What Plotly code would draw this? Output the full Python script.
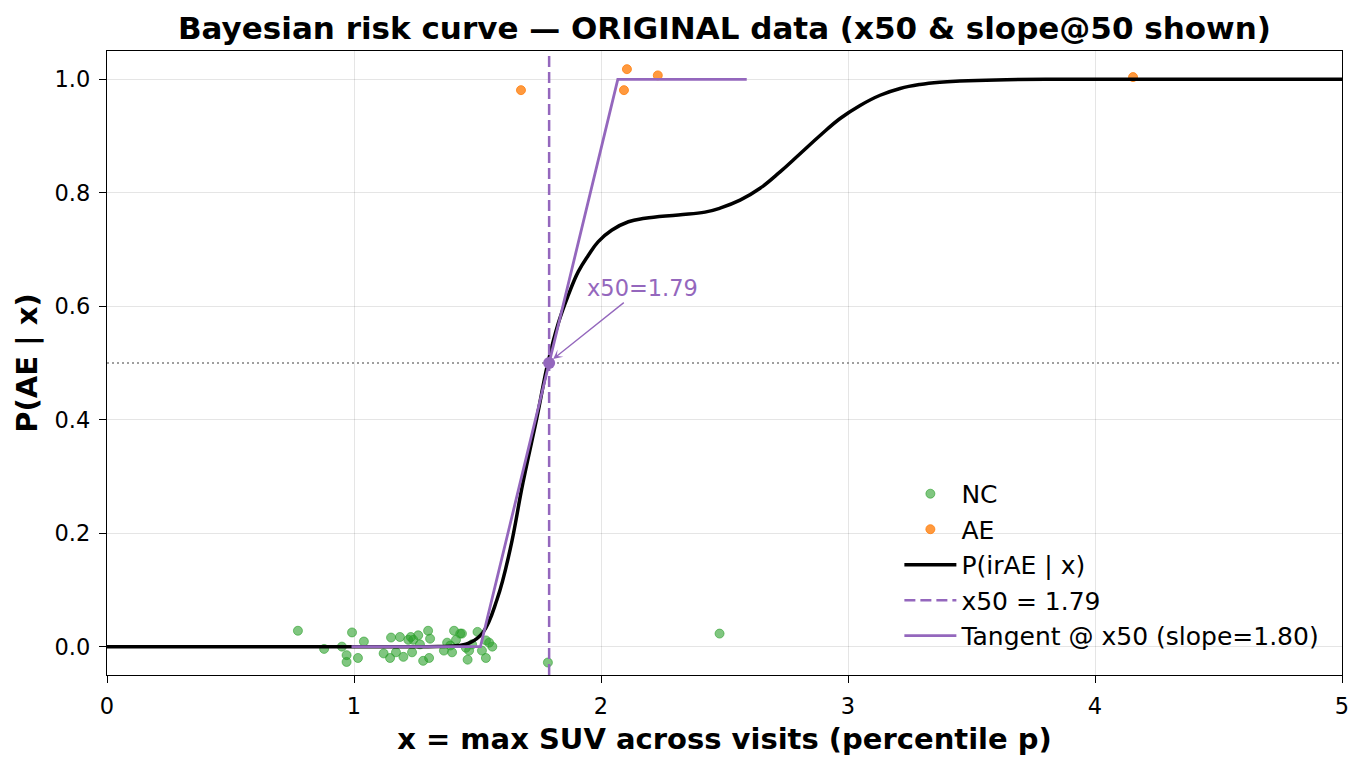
import plotly.graph_objects as go

# values
nc_x = [0.773, 0.879, 0.951, 0.97, 0.97, 0.992, 1.016, 1.04, 1.12, 1.15, 1.146, 1.17,
        1.186, 1.20, 1.22, 1.23, 1.235, 1.24, 1.26, 1.267, 1.28, 1.30, 1.304, 1.308,
        1.364, 1.377, 1.39, 1.397, 1.405, 1.413, 1.43, 1.437, 1.453, 1.46, 1.466,
        1.478, 1.50, 1.518, 1.534, 1.534, 1.547, 1.56, 1.785, 2.48]
nc_y = [0.028, -0.004, 0.0, -0.015, -0.027, 0.025, -0.02, 0.009, -0.012, 0.016, -0.02, -0.01,
        0.017, -0.018, 0.012, 0.017, -0.01, 0.012, 0.02, 0.004, -0.025, 0.028, -0.02, 0.014,
        -0.007, 0.007, 0.002, -0.01, 0.028, 0.012, 0.023, 0.023, -0.002, -0.023, -0.007,
        0.004, 0.026, -0.007, -0.02, 0.011, 0.007, 0.0, -0.028, 0.023]

ae_x = [1.676, 2.093, 2.105, 2.23, 4.154]
ae_y = [0.981, 0.981, 1.018, 1.007, 1.004]

curve_x = [0.0, 0.5, 1.0, 1.3, 1.42, 1.47, 1.522, 1.579, 1.632, 1.684, 1.741, 1.785,
           1.827, 1.868, 1.908, 1.949, 1.989, 2.043, 2.111, 2.178, 2.313, 2.421, 2.482,
           2.563, 2.644, 2.725, 2.806, 2.887, 2.968, 3.049, 3.130, 3.211, 3.291, 3.372,
           3.453, 3.6, 3.8, 4.2, 4.6, 5.0]
curve_y = [0.0, 0.0, 0.0, 0.0, 0.002, 0.007, 0.025, 0.083, 0.171, 0.289, 0.405, 0.5,
           0.570, 0.620, 0.661, 0.690, 0.714, 0.734, 0.749, 0.755, 0.761, 0.766, 0.773,
           0.787, 0.808, 0.837, 0.869, 0.901, 0.931, 0.954, 0.972, 0.984, 0.991, 0.995,
           0.997, 0.999, 1.0, 1.0, 1.0, 1.0]

x50 = 1.79
slope = 1.80
tan_x = [0.99, 1.512, 2.068, 2.59]
tan_y = [0.0, 0.0, 1.0, 1.0]

PURPLE = "#9467bd"
FONT = "DejaVu Sans"

fig = go.Figure()

fig.add_trace(go.Scatter(
    x=nc_x, y=nc_y, mode="markers", name="NC",
    marker=dict(color="rgba(44,160,44,0.6)", size=9,
                line=dict(color="rgba(44,160,44,0.6)", width=1))
))
fig.add_trace(go.Scatter(
    x=ae_x, y=ae_y, mode="markers", name="AE",
    marker=dict(color="rgba(255,127,14,0.8)", size=9,
                line=dict(color="rgba(255,127,14,0.8)", width=1))
))
fig.add_trace(go.Scatter(
    x=curve_x, y=curve_y, mode="lines", name="P(irAE | x)",
    line=dict(color="black", width=3.5, shape="spline", smoothing=1.2)
))
fig.add_trace(go.Scatter(
    x=[x50, x50], y=[-0.05, 1.05], mode="lines", name=f"x50 = {x50:.2f}",
    line=dict(color=PURPLE, width=2.5, dash="11px,5px")
))
fig.add_trace(go.Scatter(
    x=tan_x, y=tan_y, mode="lines", name=f"Tangent @ x50 (slope={slope:.2f})",
    line=dict(color=PURPLE, width=2.8)
))
# 0.5 reference line and x50 point
fig.add_trace(go.Scatter(
    x=[0, 5], y=[0.5, 0.5], mode="lines", showlegend=False, hoverinfo="skip",
    line=dict(color="gray", width=1.3, dash="2px,3px")
))
fig.add_trace(go.Scatter(
    x=[x50], y=[0.5], mode="markers", showlegend=False,
    marker=dict(color=PURPLE, size=12)
))

fig.add_annotation(
    x=x50 + 0.01, y=0.505, xref="x", yref="y",
    ax=2.166, ay=0.632, axref="x", ayref="y",
    text=f"x50={x50:.2f}", showarrow=True,
    arrowhead=3, arrowsize=1.2, arrowwidth=1.3, arrowcolor=PURPLE,
    font=dict(family=FONT, size=22.5, color=PURPLE),
    standoff=2
)

axis_common = dict(
    showline=True, linecolor="black", linewidth=1.3, mirror=True,
    ticks="outside", ticklen=7, tickwidth=1.3, tickcolor="black",
    ticklabelstandoff=4,
    showgrid=True, gridcolor="rgba(0,0,0,0.1)", gridwidth=1,
    zeroline=False, tickfont=dict(family=FONT, size=22.5, color="black"),
)

fig.update_layout(
    width=1365, height=765,
    margin=dict(l=99, r=31, t=43, b=98),
    paper_bgcolor="white", plot_bgcolor="white",
    title=dict(text="<b>Bayesian risk curve — ORIGINAL data (x50 & slope@50 shown)</b>",
               x=0.5, xref="paper", xanchor="center", y=0.974, yanchor="middle",
               font=dict(family=FONT, size=31, color="black")),
    xaxis=dict(range=[0, 5], tickvals=[0, 1, 2, 3, 4, 5],
               title=dict(text="<b>x = max SUV across visits (percentile p)</b>",
                          font=dict(family=FONT, size=29, color="black"), standoff=10),
               **axis_common),
    yaxis=dict(range=[-0.05, 1.05], tickvals=[0, 0.2, 0.4, 0.6, 0.8, 1.0], tickformat=".1f",
               title=dict(text="<b>P(AE | x)</b>",
                          font=dict(family=FONT, size=29, color="black"), standoff=8),
               **axis_common),
    legend=dict(x=0.6416, y=0.327, xanchor="left", yanchor="top",
                bgcolor="rgba(0,0,0,0)", borderwidth=0,
                font=dict(family=FONT, size=25, color="black"), itemwidth=52),
    showlegend=True,
)

fig.write_html("out.html")
